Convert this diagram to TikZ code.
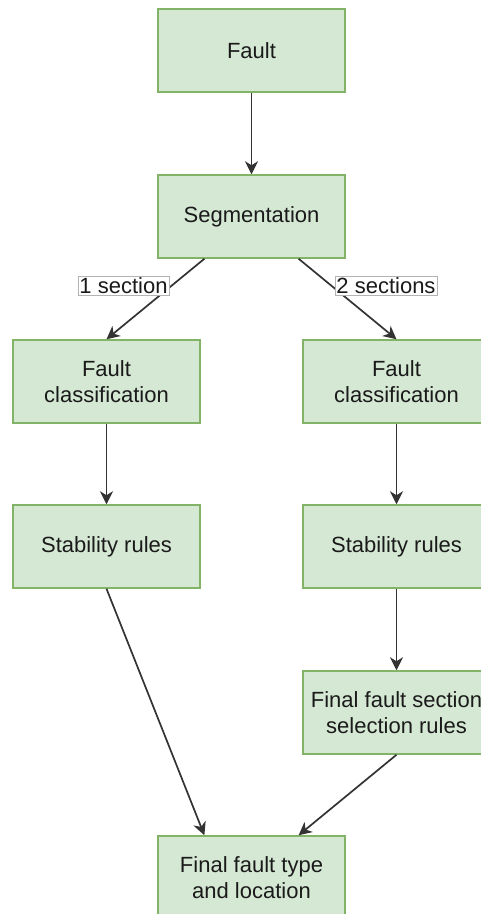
\documentclass[tikz,border=0pt]{standalone}
\usepackage{fontspec}
\setmainfont{Liberation Sans}
\usetikzlibrary{arrows.meta,calc}
\definecolor{boxfill}{HTML}{D5E8D4}
\definecolor{boxline}{HTML}{82B366}
\definecolor{ink}{HTML}{1A1A1A}
\definecolor{wire}{HTML}{333333}
\definecolor{lblline}{HTML}{B3B3B3}
\tikzset{
  stepbox/.style={draw=boxline, fill=boxfill, line width=1.5pt,
    minimum width=187pt, minimum height=83pt, inner sep=2pt,
    align=center, text=ink, font=\fontsize{22}{26.5}\selectfont},
  flow/.style={draw=wire, line width=1.7pt,
    -{Stealth[length=13pt, width=13pt, inset=4pt]}},
  edgelabel/.style={draw=lblline, fill=white, line width=0.8pt,
    inner xsep=1.5pt, inner ysep=1.5pt, text=ink,
    font=\fontsize{22}{26.5}\selectfont}
}
\begin{document}
\begin{tikzpicture}[x=1pt, y=-1pt]
  \useasboundingbox (0,0) rectangle (480,914);

  \node[stepbox] (fault) at (251.5, 50.5)  {Fault};
  \node[stepbox] (seg)   at (251.5, 216.5) {Segmentation};
  \node[stepbox] (fcL)   at (106.5, 381.5) {Fault\\classification};
  \node[stepbox] (fcR)   at (396.5, 381.5) {Fault\\classification};
  \node[stepbox] (stL)   at (106.5, 546.5) {Stability rules};
  \node[stepbox] (stR)   at (396.5, 546.5) {Stability rules};
  \node[stepbox] (sel)   at (396.5, 712.5) {Final fault section\\selection rules};
  \node[stepbox] (fin)   at (251.5, 877.5) {Final fault type\\and location};

  \draw[flow] (fault.south) -- (seg.north);
  \draw[flow] ($(seg.south)!0.5!(seg.south west)$) -- (fcL.north);
  \draw[flow] ($(seg.south)!0.5!(seg.south east)$) -- (fcR.north);
  \draw[flow] (fcL.south) -- (stL.north);
  \draw[flow] (fcR.south) -- (stR.north);
  \draw[flow] (stR.south) -- (sel.north);
  \draw[flow] (stL.south) -- ($(fin.north)!0.5!(fin.north west)$);
  \draw[flow] (sel.south) -- ($(fin.north)!0.5!(fin.north east)$);

  \node[edgelabel] (lbl1) at (123.5, 285.5) {1 section};
  \node[edgelabel] (lbl2) at (386, 285.5) {2 sections};
\end{tikzpicture}
\end{document}
